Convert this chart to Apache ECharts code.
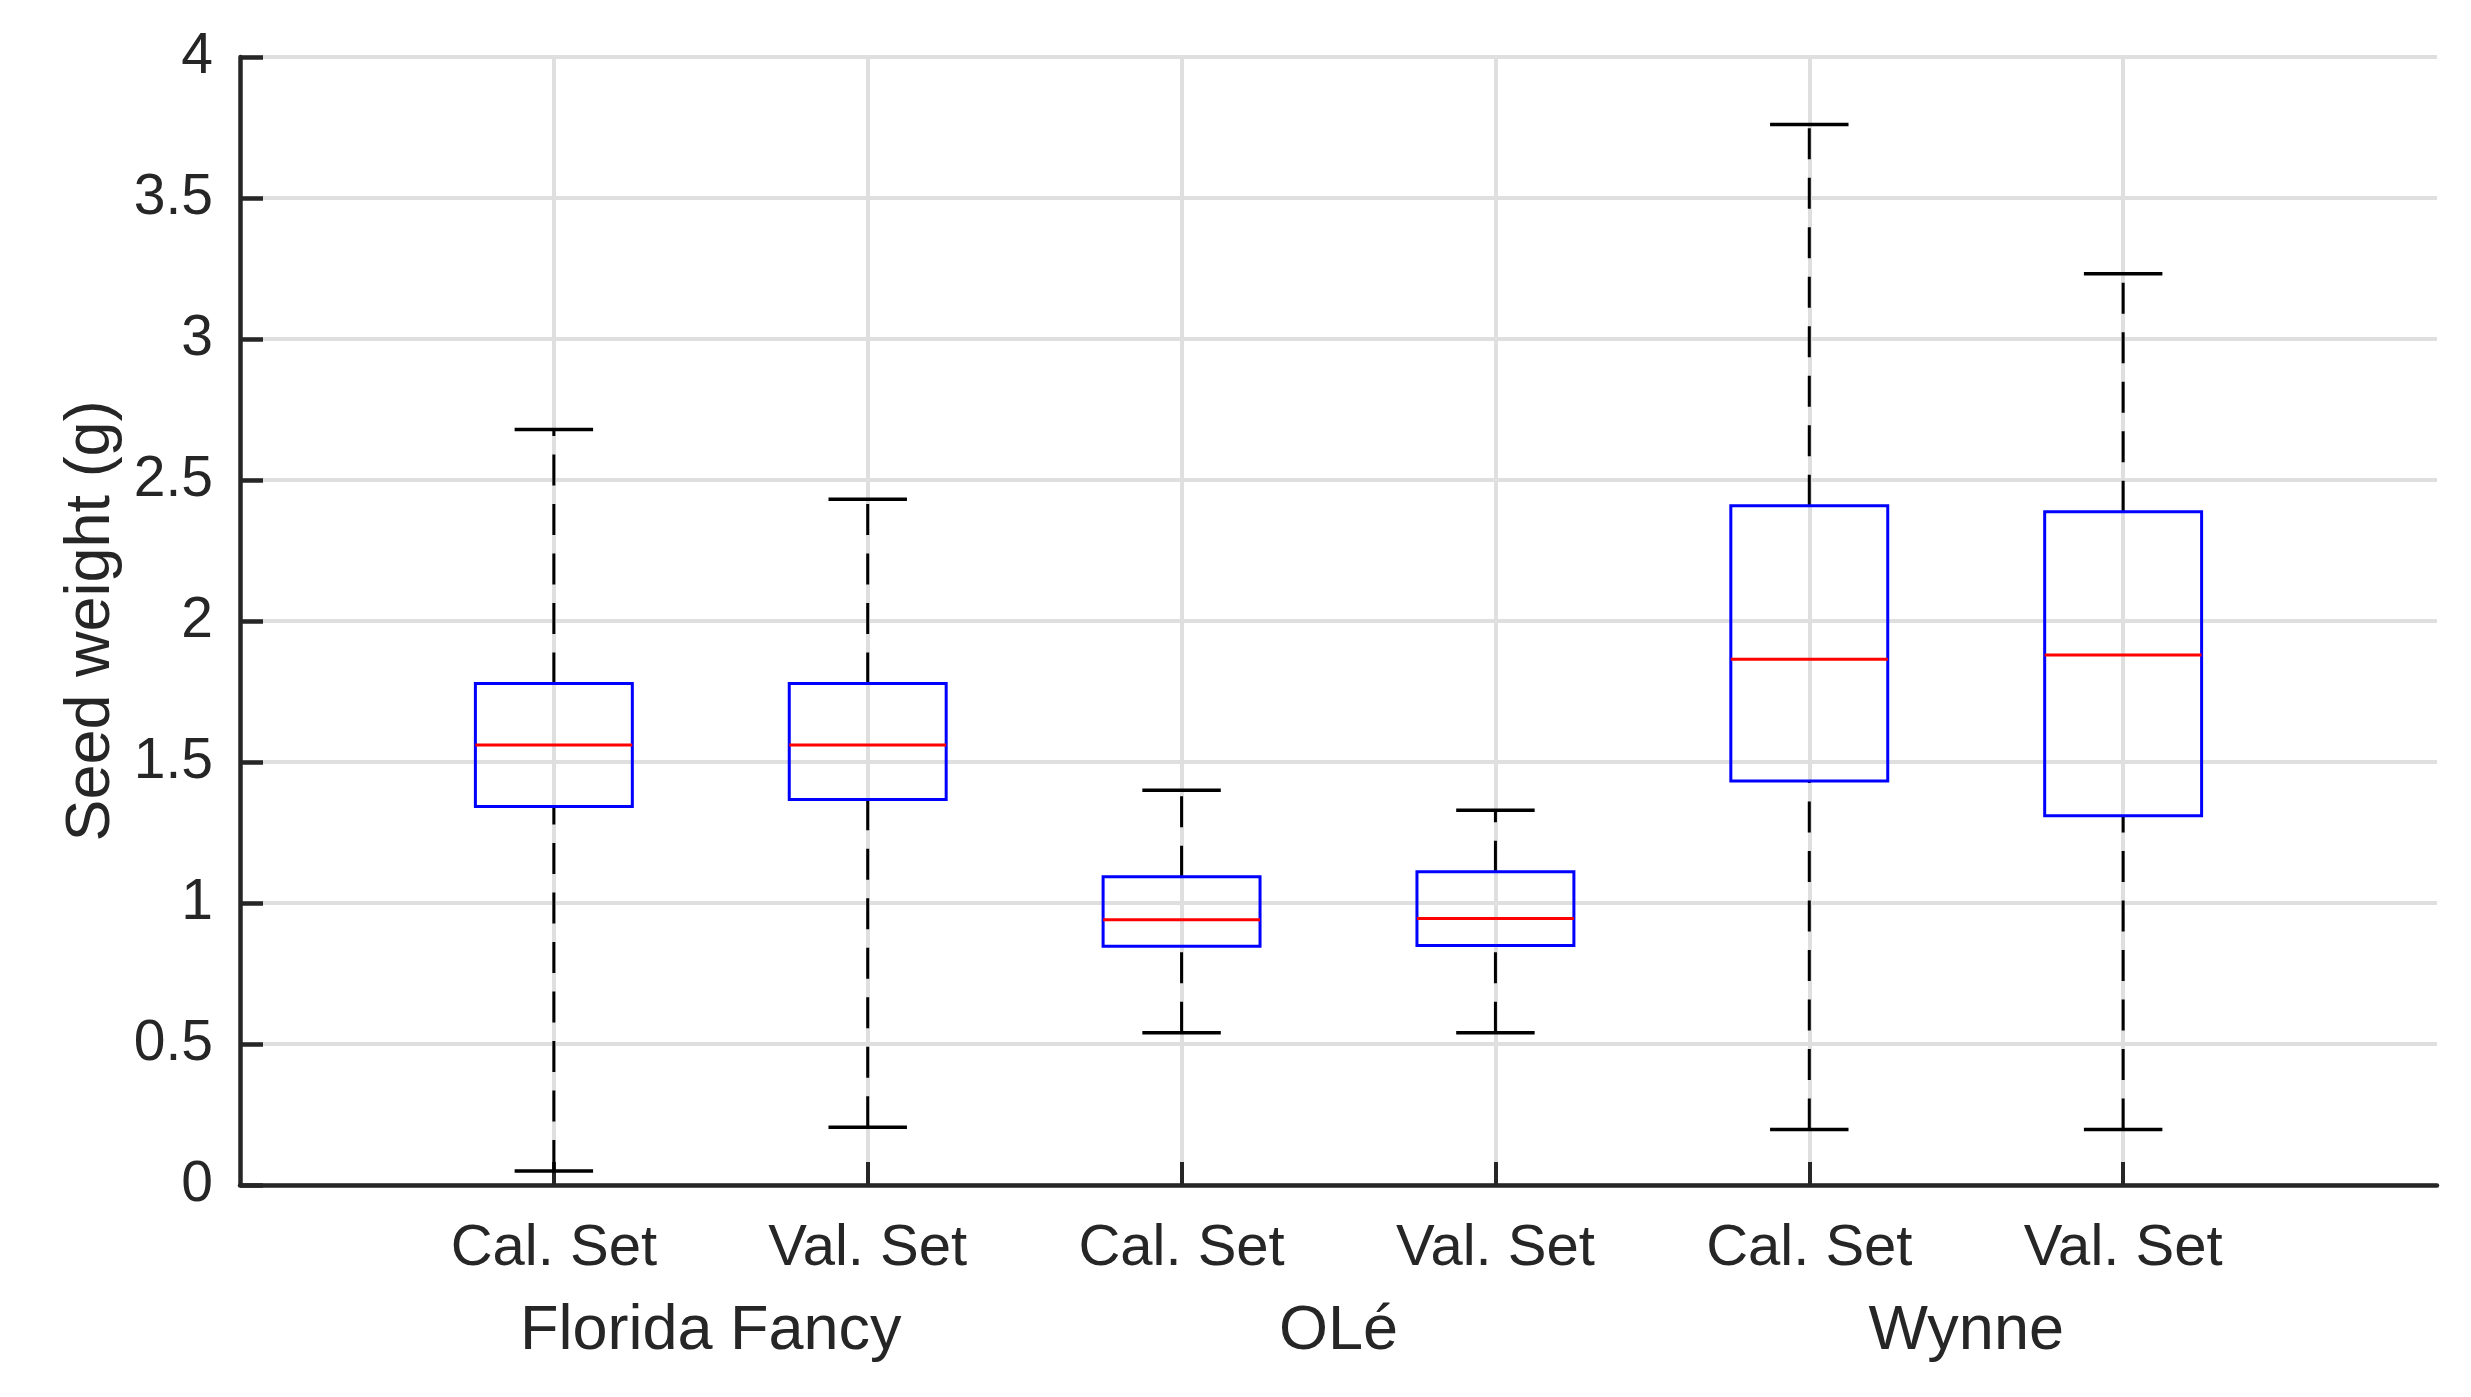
<!DOCTYPE html>
<html><head><meta charset="utf-8">
<script src="https://cdn.jsdelivr.net/npm/echarts@6/dist/echarts.min.js"></script>
<style>html,body{margin:0;padding:0;background:#fff}#c{width:2471px;height:1397px}</style>
</head><body><div id="c"></div>
<script>
const groups = ['Florida Fancy', 'OLé', 'Wynne'];
const tickLabels = ['', 'Cal. Set', 'Val. Set', 'Cal. Set', 'Val. Set', 'Cal. Set', 'Val. Set', ''];
const lowerWhisker = [0.050, 0.205, 0.540, 0.540, 0.197, 0.197];
const q1           = [1.342, 1.367, 0.847, 0.849, 1.433, 1.309];
const median       = [1.560, 1.560, 0.941, 0.945, 1.864, 1.879];
const q3           = [1.778, 1.778, 1.093, 1.111, 2.409, 2.387];
const upperWhisker = [2.679, 2.432, 1.400, 1.329, 3.761, 3.231];

const groupAxisLabels = [];
for (let k = 0; k < 15; k++) groupAxisLabels.push('');
groups.forEach((g, i) => { groupAxisLabels[3 + 4 * i] = g; });

const boxData = median.map((m, i) => [i + 1, lowerWhisker[i], q1[i], m, q3[i], upperWhisker[i]]);

const FONT = 'Liberation Sans, Arial, Helvetica, sans-serif';
const TXT = '#262626';

function renderItem(params, api) {
  const x = api.value(0);
  const lo = api.coord([x, api.value(1)]);
  const b = api.coord([x, api.value(2)]);
  const m = api.coord([x, api.value(3)]);
  const t = api.coord([x, api.value(4)]);
  const hi = api.coord([x, api.value(5)]);
  const band = api.size([1, 0])[0];
  const hw = band * 0.25, cw = band * 0.125;
  const cx = lo[0];
  const dash = {stroke: '#000', lineWidth: 3, lineDash: [31, 18.5], fill: null};
  const solid = {stroke: '#000', lineWidth: 3.5, fill: null};
  return {type: 'group', children: [
    {type: 'line', shape: {x1: cx, y1: t[1], x2: cx, y2: hi[1]}, style: dash},
    {type: 'line', shape: {x1: cx, y1: lo[1], x2: cx, y2: b[1]}, style: dash},
    {type: 'line', shape: {x1: cx - cw, y1: hi[1], x2: cx + cw, y2: hi[1]}, style: solid},
    {type: 'line', shape: {x1: cx - cw, y1: lo[1], x2: cx + cw, y2: lo[1]}, style: solid},
    {type: 'rect', shape: {x: cx - hw, y: t[1], width: 2 * hw, height: b[1] - t[1]},
      style: {fill: 'none', stroke: '#0000ff', lineWidth: 3}},
    {type: 'line', shape: {x1: cx - hw, y1: m[1], x2: cx + hw, y2: m[1]},
      style: {stroke: '#ff0000', lineWidth: 3, fill: null}}
  ]};
}

const inner = (idx) => idx > 0 && idx < tickLabels.length - 1;

const chart = echarts.init(document.getElementById('c'), null, {renderer: 'canvas'});
chart.setOption({
  backgroundColor: '#fff',
  animation: false,
  grid: {left: 240, right: 34, top: 57, bottom: 212, containLabel: false, outerBoundsMode: 'none'},
  xAxis: [{
    type: 'category', data: tickLabels, boundaryGap: false,
    axisLine: {show: true, onZero: false, lineStyle: {color: TXT, width: 4.5}},
    axisTick: {show: true, inside: true, length: 23, interval: inner, lineStyle: {color: TXT, width: 4}},
    axisLabel: {interval: 0, margin: 35, fontSize: 58, color: TXT, fontFamily: FONT},
    splitLine: {show: true, interval: inner, lineStyle: {color: '#dfdfdf', width: 4}}
  }, {
    type: 'category', data: groupAxisLabels, boundaryGap: false, position: 'bottom',
    axisLine: {show: false}, axisTick: {show: false}, splitLine: {show: false},
    axisLabel: {interval: 0, margin: 115, fontSize: 63, color: TXT, fontFamily: FONT}
  }],
  yAxis: {
    type: 'value', min: 0, max: 4, interval: 0.5,
    name: 'Seed weight (g)', nameLocation: 'middle', nameGap: 117,
    nameTextStyle: {fontSize: 63, color: TXT, fontFamily: FONT},
    axisLine: {show: true, lineStyle: {color: TXT, width: 4.5}},
    axisTick: {show: true, inside: true, length: 23, lineStyle: {color: TXT, width: 4.5}},
    axisLabel: {margin: 27, fontSize: 57, color: TXT, fontFamily: FONT},
    splitLine: {show: true, lineStyle: {color: '#dfdfdf', width: 4}}
  },
  series: [{
    type: 'custom', xAxisIndex: 0, yAxisIndex: 0,
    renderItem: renderItem, data: boxData,
    encode: {x: 0, y: [1, 2, 3, 4, 5]}, z: 10
  }]
});
</script></body></html>
